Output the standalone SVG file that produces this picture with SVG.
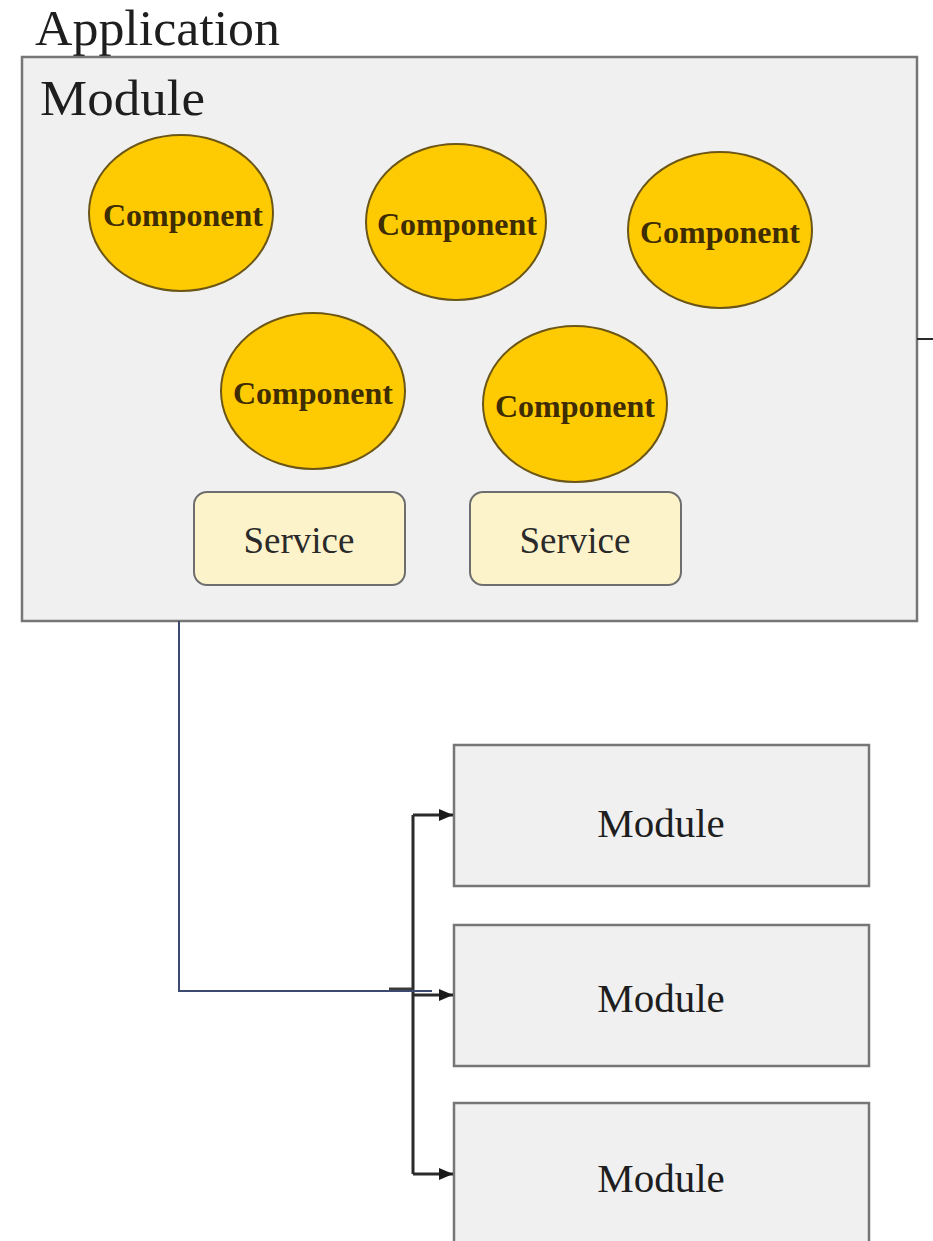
<svg xmlns="http://www.w3.org/2000/svg" width="933" height="1241" viewBox="0 0 933 1241">
<style>
.t{font-family:"Liberation Serif","Times New Roman",serif;fill:#1e1e1e}
.box{fill:#f0f0f0;stroke:#767676;stroke-width:2.5}
.comp{fill:#fecb02;stroke:#6b5617;stroke-width:2}
.ct{font-family:"Liberation Serif","Times New Roman",serif;font-size:32px;font-weight:bold;fill:#3e2c02;text-anchor:middle}
.svc{fill:#fdf3cb;stroke:#6e6e6e;stroke-width:2}
.st{font-family:"Liberation Serif","Times New Roman",serif;font-size:37px;fill:#2a2a2a;text-anchor:middle}
.mt{font-family:"Liberation Serif","Times New Roman",serif;font-size:41px;fill:#1e1e1e;text-anchor:middle}
.arr{fill:none;stroke:#2a2a2a;stroke-width:3}
</style>
<defs>
<marker id="ah" markerWidth="14" markerHeight="12" refX="14" refY="6" orient="auto" markerUnits="userSpaceOnUse">
<path d="M0,0 L14,6 L0,12 Z" fill="#1a1a1a"/>
</marker>
</defs>
<rect width="933" height="1241" fill="#ffffff"/>
<text class="t" x="35" y="45" font-size="50" textLength="245" lengthAdjust="spacingAndGlyphs">Application</text>
<g id="app-module">
<rect class="box" x="22" y="57" width="895" height="564"/>
<text class="t" x="40" y="115" font-size="50" textLength="165" lengthAdjust="spacingAndGlyphs">Module</text>
</g>
<g id="comp1"><ellipse class="comp" cx="181" cy="213" rx="92" ry="78"/><text class="ct" x="183" y="226">Component</text></g>
<g id="comp2"><ellipse class="comp" cx="456" cy="222" rx="90" ry="78"/><text class="ct" x="457" y="235">Component</text></g>
<g id="comp3"><ellipse class="comp" cx="720" cy="230" rx="92" ry="78"/><text class="ct" x="720" y="243">Component</text></g>
<g id="comp4"><ellipse class="comp" cx="313" cy="391" rx="92" ry="78"/><text class="ct" x="313" y="404">Component</text></g>
<g id="comp5"><ellipse class="comp" cx="575" cy="404" rx="92" ry="78"/><text class="ct" x="575" y="417">Component</text></g>
<g id="service1"><rect class="svc" x="194" y="492" width="211" height="93" rx="13"/><text class="st" x="299" y="553">Service</text></g>
<g id="service2"><rect class="svc" x="470" y="492" width="211" height="93" rx="13"/><text class="st" x="575" y="553">Service</text></g>
<g id="module1"><rect class="box" x="454" y="745" width="415" height="141"/><text class="mt" x="661" y="837">Module</text></g>
<g id="module2"><rect class="box" x="454" y="925" width="415" height="141"/><text class="mt" x="661" y="1012">Module</text></g>
<g id="module3"><rect class="box" x="454" y="1103" width="415" height="141"/><text class="mt" x="661" y="1192">Module</text></g>
<g id="connectors">
<line x1="917" y1="339" x2="933" y2="339" stroke="#2a2a2a" stroke-width="2"/>
<path class="arr" d="M413,815 V1174"/>
<path class="arr" d="M413,815 H453" marker-end="url(#ah)"/>
<path class="arr" d="M413,995 H453" marker-end="url(#ah)"/>
<path class="arr" d="M413,1174 H453" marker-end="url(#ah)"/>
<line x1="389" y1="989" x2="413" y2="989" stroke="#3a3a3a" stroke-width="3"/>
<path d="M179,621 V991 H432" fill="none" stroke="#3b4a6e" stroke-width="2"/>
</g>
</svg>
